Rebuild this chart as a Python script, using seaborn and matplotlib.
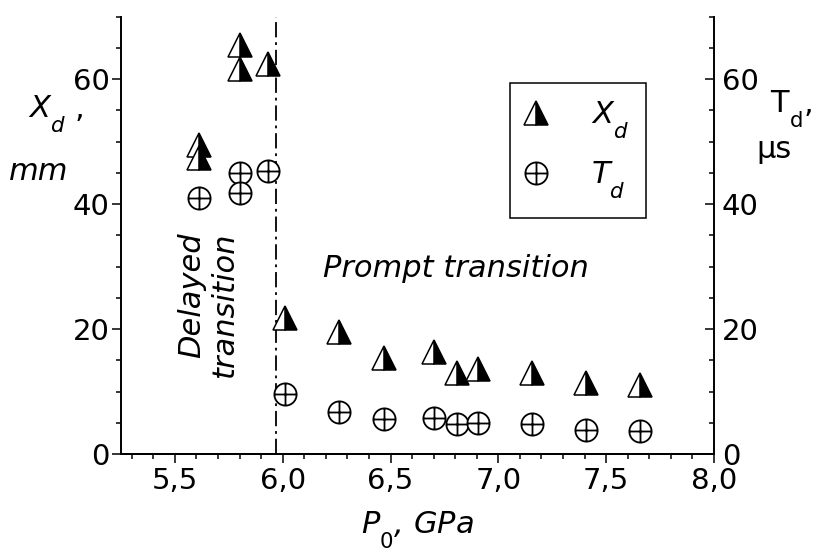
import numpy as np
import pandas as pd
import matplotlib
matplotlib.use("Agg")
import matplotlib.pyplot as plt
import matplotlib._mathtext as mathtext_impl
from matplotlib.path import Path
from matplotlib.ticker import FixedLocator, MultipleLocator
import seaborn as sns

# Run-up distance X_d (mm) against initial pressure P0 (GPa)
p_xd = [5.61, 5.61, 5.80, 5.80, 5.93, 6.01, 6.26, 6.47, 6.70, 6.81, 6.905, 7.155, 7.405, 7.655]
xd = [49.4, 47.4, 65.5, 61.7, 62.5, 21.7, 19.6, 15.4, 16.4, 13.0, 13.6, 13.0, 11.3, 11.1]

# Delay time T_d (us) against initial pressure P0 (GPa)
p_td = [5.61, 5.80, 5.80, 5.93, 6.01, 6.26, 6.47, 6.70, 6.81, 6.905, 7.155, 7.405, 7.655]
td = [40.9, 45.0, 41.8, 45.3, 9.6, 6.7, 5.6, 5.8, 4.8, 5.0, 4.8, 3.9, 3.7]

# pressure separating delayed and prompt transition
p_boundary = 5.97

x_ticks = [5.5, 6.0, 6.5, 7.0, 7.5, 8.0]
x_tick_labels = ["5,5", "6,0", "6,5", "7,0", "7,5", "8,0"]
y_ticks = [0, 20, 40, 60]
y_tick_labels = ["0", "20", "40", "60"]

sns.set_style("white")
plt.rcParams["font.family"] = ["DejaVu Sans"]
plt.rcParams.update({
    "mathtext.fontset": "custom",
    "mathtext.rm": "DejaVu Sans",
    "mathtext.it": "DejaVu Sans:italic",
    "mathtext.bf": "DejaVu Sans:bold",
    "lines.scale_dashes": False,
    "axes.edgecolor": "black",
    "axes.linewidth": 1.4,
    "text.color": "black",
    "axes.labelcolor": "black",
    "xtick.color": "black",
    "ytick.color": "black",
})
# drop subscripts further below the baseline
mathtext_impl.FontConstantsBase.subdrop = 0.9
mathtext_impl.FontConstantsBase.sub1 = 0.9

W, H = 819, 558
fig = plt.figure(figsize=(W / 100, H / 100), dpi=100)
ax_left, ax_right, ax_bottom, ax_top = 121, 714, 454, 16.7
ax = fig.add_axes([ax_left / W, 1 - ax_bottom / H,
                   (ax_right - ax_left) / W, (ax_bottom - ax_top) / H])
ax2 = ax.twinx()

# circle with a cross inside
circ = Path.unit_circle()
verts = np.concatenate([circ.vertices, [[-1, 0], [1, 0], [0, -1], [0, 1]]])
codes = np.concatenate([circ.codes, [Path.MOVETO, Path.LINETO, Path.MOVETO, Path.LINETO]])
oplus = Path(verts, codes)

df_x = pd.DataFrame({"P0": p_xd, "Xd": xd})
df_t = pd.DataFrame({"P0": p_td, "Td": td})

sns.lineplot(data=df_x, x="P0", y="Xd", ax=ax, estimator=None, sort=False,
             linestyle="none", marker="^", markersize=17, fillstyle="right",
             color="black", markerfacecolor="black", markerfacecoloralt="white",
             markeredgecolor="black", markeredgewidth=1.1, legend=False, zorder=3)
sns.lineplot(data=df_t, x="P0", y="Td", ax=ax2, estimator=None, sort=False,
             linestyle="none", marker=oplus, markersize=16,
             color="black", markerfacecolor="white",
             markeredgecolor="black", markeredgewidth=1.3, legend=False, zorder=3)

ax.axvline(p_boundary, color="black", lw=1.3, linestyle=(0, (11, 3.5, 2, 3.5)), zorder=1)

for a in (ax, ax2):
    a.set_xlim(5.25, 8.0)
    a.set_ylim(0, 70)
    a.spines["top"].set_visible(False)
ax.spines["right"].set_visible(False)
ax2.spines["left"].set_visible(False)

ax.xaxis.set_major_locator(FixedLocator(x_ticks))
ax.set_xticklabels(x_tick_labels)
ax.xaxis.set_minor_locator(MultipleLocator(0.1))
for a in (ax, ax2):
    a.yaxis.set_major_locator(FixedLocator(y_ticks))
    a.set_yticklabels(y_tick_labels)
    a.yaxis.set_minor_locator(MultipleLocator(5))

tick_font = 21
ax.tick_params(axis="x", which="major", bottom=True, direction="out", length=6.5,
               width=1.1, labelsize=tick_font, pad=3)
ax.tick_params(axis="x", which="minor", bottom=True, direction="out", length=3.6, width=1.1)
ax.tick_params(axis="y", which="major", left=True, right=False, direction="out",
               length=6.5, width=1.1, labelsize=tick_font, pad=1.5)
ax.tick_params(axis="y", which="minor", left=True, right=False, direction="out",
               length=3.6, width=1.1)
ax2.tick_params(axis="y", which="major", right=True, left=False, direction="in",
                length=6.5, width=1.1, labelsize=tick_font, pad=5.5)
ax2.tick_params(axis="y", which="minor", right=True, left=False, direction="in",
                length=3.6, width=1.1)

label_font = 22
ax.set_xlabel("$P_0$, GPa", fontsize=label_font, style="italic", va="top", ha="center")
ax.xaxis.set_label_coords(0.5, -(510 - ax_bottom) / (ax_bottom - ax_top))


def axes_xy(px, py):
    return ((px - ax_left) / (ax_right - ax_left), (ax_bottom - py) / (ax_bottom - ax_top))


ax.set_ylabel("$X_d$ ,", fontsize=label_font, rotation=0, ha="left", va="baseline")
ax.yaxis.set_label_coords(*axes_xy(28, 118))
ax.text(*axes_xy(9, 180), "mm", transform=ax.transAxes, fontsize=label_font,
        style="italic", ha="left", va="baseline")

ax2.set_ylabel("$\\mathrm{T_d}$,", fontsize=label_font, rotation=0, ha="left", va="baseline")
ax2.yaxis.set_label_coords(*axes_xy(770, 113))
ax2.text(*axes_xy(756, 158), "\u03bcs", transform=ax2.transAxes, fontsize=label_font,
         ha="left", va="baseline")

ax2.text(6.188, 28.4, "Prompt transition", fontsize=label_font, style="italic",
         ha="left", va="baseline")
ax2.text(5.654, 35.5, "Delayed\ntransition", fontsize=label_font, style="italic",
         rotation=90, ha="center", va="top", multialignment="right")

handles = [ax.get_lines()[0], ax2.get_lines()[0]]
leg = ax2.legend(handles, ["$X_d$", "$T_d$"], loc="upper left",
                 bbox_to_anchor=(510 / W, 1 - 83 / H), bbox_transform=fig.transFigure,
                 frameon=True, fancybox=False, edgecolor="black", framealpha=1,
                 fontsize=label_font, borderpad=0.55, handlelength=0.6,
                 handletextpad=1.5, labelspacing=0.62, borderaxespad=0, numpoints=1)
leg.get_frame().set_linewidth(1.1)

fig.savefig("out.png", dpi=100)
